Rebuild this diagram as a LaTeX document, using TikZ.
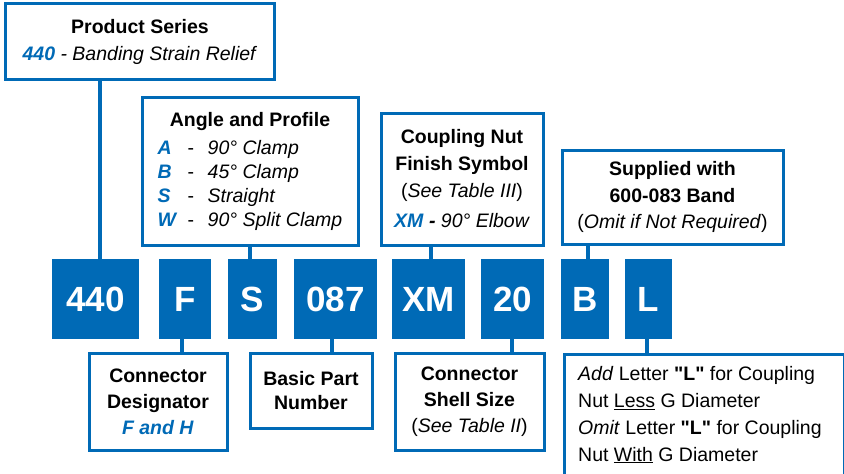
\documentclass[tikz,border=0pt]{standalone}
\usepackage{fontspec}
\setmainfont{Liberation Sans}
\newfontfamily\nq{Liberation Sans}
\definecolor{gblue}{HTML}{006AB6}
\tikzset{
  lbl/.style={draw=gblue, line width=3pt, fill=white, inner sep=0pt, align=center},
  code/.style={fill=gblue, text=white, inner sep=0pt, font=\fontsize{35}{35}\selectfont\bfseries, text height=25pt, text depth=0pt, minimum height=80pt},
  stem/.style={draw=gblue, line width=3.5pt},
  txt/.style={inner sep=0pt}
}
\newcommand{\bl}[1]{\textcolor{gblue}{\textbf{\textit{#1}}}}
\newcommand{\qL}{{\nq\bfseries "L"}}
\begin{document}
\begin{tikzpicture}[x=1pt,y=-1pt]
\clip (0,0) rectangle (844,474);
\useasboundingbox (0,0) rectangle (844,474);
% code boxes
\node[code, minimum width=87pt] (c440) at (95.5,299) {440};
\node[code, minimum width=52pt] (cF) at (185,299) {F};
\node[code, minimum width=49pt] (cS) at (252.5,299) {S};
\node[code, minimum width=83pt] (c087) at (335.5,299) {087};
\node[code, minimum width=73pt] (cXM) at (428.5,299) {XM};
\node[code, minimum width=63pt] (c20) at (512.5,299) {20};
\node[code, minimum width=48pt] (cB) at (585,299) {B};
\node[code, minimum width=47pt] (cL) at (648.5,299) {L};
% stem coordinates
\coordinate (s440) at ([xshift=4.5pt]c440.north);
\coordinate (sS) at ([xshift=-2.5pt]cS.north);
\coordinate (sXM) at ([xshift=2.5pt]cXM.north);
\coordinate (sB) at ([xshift=3pt]cB.north);
\coordinate (sF) at ([xshift=-3pt]cF.south);
\coordinate (s087) at ([xshift=-3.5pt]c087.south);
\coordinate (s20) at ([xshift=-0.5pt]c20.south);
\coordinate (sL) at ([xshift=-1.5pt]cL.south);
% label boxes (top)
\node[lbl, minimum width=269pt, minimum height=76pt, font=\fontsize{19.5}{27}\selectfont] (ps) at (140,41.5)
 {\textbf{Product Series}\\\bl{440}\textit{ - Banding Strain Relief}};
\node[lbl, minimum width=216pt, minimum height=148pt, font=\fontsize{19.5}{24}\selectfont] (ap) at (250,171.5)
 {\begin{tabular}{@{}l@{}}
 \multicolumn{1}{@{}c@{}}{\textbf{Angle and Profile}}\\[4pt]
 \makebox[30pt][l]{\bl{A}}\makebox[20pt][l]{-}\textit{90° Clamp}\\
 \makebox[30pt][l]{\bl{B}}\makebox[20pt][l]{-}\textit{45° Clamp}\\
 \makebox[30pt][l]{\bl{S}}\makebox[20pt][l]{-}\textit{Straight}\\
 \makebox[30pt][l]{\bl{W}}\makebox[20pt][l]{-}\textit{90° Split Clamp}
 \end{tabular}};
\node[lbl, minimum width=162pt, minimum height=132pt, font=\fontsize{19.5}{27}\selectfont] (cn) at (462,179)
 {\textbf{Coupling Nut}\\\textbf{Finish Symbol}\\(\textit{See Table III})\\[3pt]\bl{XM} \textbf{\textit{-}} \textit{90° Elbow}};
\node[lbl, minimum width=221pt, minimum height=94pt, font=\fontsize{19.5}{26.5}\selectfont] (sup) at (672.5,197)
 {\textbf{Supplied with}\\\textbf{600-083 Band}\\(\textit{Omit if Not Required})};
% label boxes (bottom)
\node[lbl, minimum width=138pt, minimum height=97pt, font=\fontsize{19.5}{26}\selectfont] (cd) at (158,401.5)
 {\textbf{Connector}\\\textbf{Designator}\\\bl{F and H}};
\node[lbl, minimum width=122pt, minimum height=75pt, font=\fontsize{19.5}{24}\selectfont] (bp) at (311,390.5)
 {\textbf{Basic Part}\\\textbf{Number}};
\node[lbl, minimum width=149pt, minimum height=97pt, font=\fontsize{19.5}{26}\selectfont] (ss) at (469.5,401.5)
 {\textbf{Connector}\\\textbf{Shell Size}\\(\textit{See Table II})};
\node[lbl, anchor=north west, minimum width=279.5pt, minimum height=140pt] (nt) at (563,353) {};
\node[txt, anchor=base west, align=left, font=\fontsize{19.5}{26.7}\selectfont] (ntx) at (578,461)
 {\textit{Add} Letter \qL{} for Coupling\\Nut \underline{Less} G Diameter\\\textit{Omit} Letter \qL{} for Coupling\\Nut \underline{With} G Diameter};
% stems
\draw[stem] (s440 |- ps.south) -- (s440);
\draw[stem] (sS |- ap.south) -- (sS);
\draw[stem] (sXM |- cn.south) -- (sXM);
\draw[stem] (sB |- sup.south) -- (sB);
\draw[stem] (sF) -- (sF |- cd.north);
\draw[stem] (s087) -- (s087 |- bp.north);
\draw[stem] (s20) -- (s20 |- ss.north);
\draw[stem] (sL) -- (sL |- nt.north);
\end{tikzpicture}
\end{document}
